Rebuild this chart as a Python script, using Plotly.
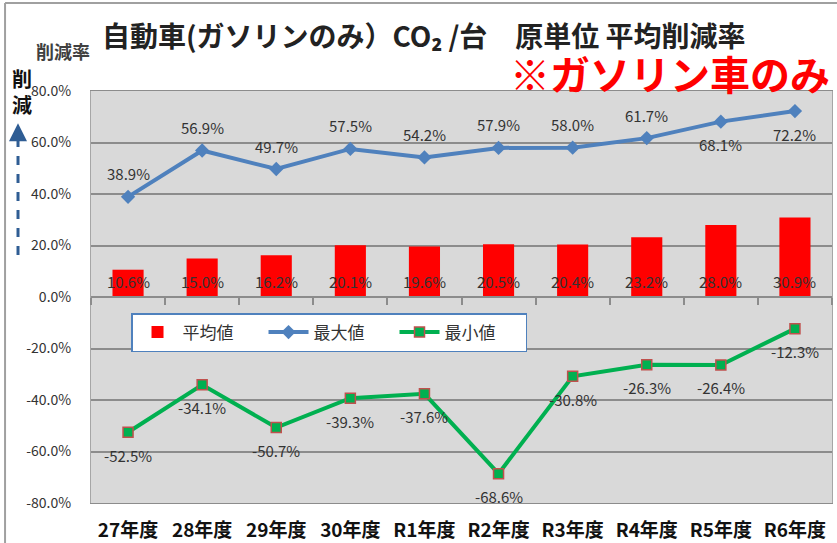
import plotly.graph_objects as go

# data
years = ["27年度", "28年度", "29年度", "30年度", "R1年度", "R2年度", "R3年度", "R4年度", "R5年度", "R6年度"]
avg_vals = [10.6, 15.0, 16.2, 20.1, 19.6, 20.5, 20.4, 23.2, 28.0, 30.9]
max_vals = [38.9, 56.9, 49.7, 57.5, 54.2, 57.9, 58.0, 61.7, 68.1, 72.2]
min_vals = [-52.5, -34.1, -50.7, -39.3, -37.6, -68.6, -30.8, -26.3, -26.4, -12.3]
y_ticks = [80, 60, 40, 20, 0, -20, -40, -60, -80]

# label side for the max series: above, except the last two (below)
max_label_up = [True] * 8 + [False] * 2

FONT = "Noto Sans CJK JP, Noto Sans, sans-serif"
LBL = dict(family=FONT, size=15, color="#333333")

def pct(v):
    return f"{v:.1f}%"

fig = go.Figure()

fig.add_trace(go.Bar(
    x=years, y=avg_vals, name="平均値", xaxis="x2",
    marker=dict(color="#ff0000", line=dict(width=0)), width=0.42,
))
fig.add_trace(go.Scatter(
    x=years, y=max_vals, name="最大値", mode="lines+markers",
    line=dict(color="#4f81bd", width=4),
    marker=dict(symbol="diamond", size=11, color="#4f81bd"),
))
fig.add_trace(go.Scatter(
    x=years, y=min_vals, name="最小値", mode="lines+markers",
    line=dict(color="#00b050", width=4),
    marker=dict(symbol="square", size=10, color="#00b050",
                line=dict(color="#c0504d", width=1.5)),
))

# data labels
for yr, v in zip(years, avg_vals):
    fig.add_annotation(x=yr, y=0, xref="x", yref="y", text=pct(v), showarrow=False,
                       yshift=16, font=LBL)
for yr, v, up in zip(years, max_vals, max_label_up):
    fig.add_annotation(x=yr, y=v, xref="x", yref="y", text=pct(v), showarrow=False,
                       yshift=23 if up else -23, font=LBL)
for yr, v in zip(years, min_vals):
    fig.add_annotation(x=yr, y=v, xref="x", yref="y", text=pct(v), showarrow=False,
                       yshift=-23, font=LBL)

fig.update_layout(
    width=837, height=543,
    margin=dict(l=91, r=5, t=91, b=40, autoexpand=False),
    paper_bgcolor="white", plot_bgcolor="#d9d9d9",
    font=dict(family=FONT, color="#333333"),
    barmode="overlay",
    xaxis=dict(
        type="category", categoryarray=years, range=[-0.5, 9.5],
        showgrid=False, ticks="", ticklabelstandoff=10, automargin=False,
        tickfont=dict(family=FONT, size=19, color="#111111", weight="bold"),
        showline=True, linecolor="#8c8c8c", linewidth=1, mirror=True,
    ),
    xaxis2=dict(
        type="category", categoryarray=years, range=[-0.5, 9.5],
        overlaying="x", anchor="free", position=0.5, automargin=False,
        showgrid=False, showticklabels=False,
        ticks="outside", tickson="boundaries", ticklen=7,
        tickcolor="#8c8c8c", tickwidth=1.5,
        showline=True, linecolor="#8c8c8c", linewidth=1.5,
    ),
    yaxis=dict(
        range=[-80, 80], tickvals=y_ticks, ticktext=[f"{v:.1f}%" for v in y_ticks],
        showgrid=True, gridcolor="#8c8c8c", gridwidth=1.5, zeroline=False,
        ticklabelstandoff=16, automargin=False,
        tickfont=dict(family=FONT, size=14, color="#333333"),
        showline=True, linecolor="#a6a6a6", mirror=True,
    ),
    legend=dict(
        orientation="h", x=0.054, y=0.461, xanchor="left", yanchor="top",
        bgcolor="white", bordercolor="#4f81bd", borderwidth=1.5,
        font=dict(family=FONT, size=17, color="#333333"),
        entrywidth=76, itemwidth=40,
    ),
    showlegend=True,
)

# title and side texts
fig.add_annotation(
    text="自動車(ガソリンのみ）CO₂ /台　原単位 平均削減率",
    xref="paper", yref="paper", x=0.45, y=1.137, showarrow=False,
    xanchor="center", yanchor="middle",
    font=dict(family=FONT, size=28, color="#222222", weight="bold"),
)
fig.add_annotation(
    text="※ガソリン車のみ",
    xref="paper", yref="paper", x=0.781, y=1.044, showarrow=False,
    xanchor="center", yanchor="middle",
    font=dict(family=FONT, size=40, color="#ff0000", weight="bold"),
)
fig.add_annotation(
    text="削減率", xref="paper", yref="paper", x=-0.038, y=1.097, showarrow=False,
    xanchor="center", yanchor="middle",
    font=dict(family=FONT, size=18, color="#404040", weight="bold"),
)
fig.add_annotation(
    text="削<br>減", xref="paper", yref="paper", x=-0.093, y=1.0, showarrow=False,
    xanchor="center", yanchor="middle",
    font=dict(family=FONT, size=20, color="#111111", weight="bold"),
)

# dashed arrow on the left
fig.add_shape(type="line", xref="paper", yref="paper",
              x0=-0.0985, x1=-0.0985, y0=0.602, y1=0.885,
              line=dict(color="#2f5d94", width=3, dash="dash"))
fig.add_annotation(
    text="", xref="paper", yref="paper", x=-0.0985, y=0.922,
    showarrow=True, ax=0, ay=16, arrowhead=2, arrowsize=1.2, arrowwidth=3,
    arrowcolor="#2f5d94",
)

# outer frame (left and top)
fig.add_shape(type="line", xref="paper", yref="paper",
              x0=-0.116, x1=-0.116, y0=-0.2, y1=1.2136,
              line=dict(color="#a0a0a0", width=2))
fig.add_shape(type="line", xref="paper", yref="paper",
              x0=-0.116, x1=1.02, y0=1.2136, y1=1.2136,
              line=dict(color="#a0a0a0", width=2))

fig.write_html("out.html", config={"displayModeBar": False},
               post_script="document.body.style.margin='0';")
